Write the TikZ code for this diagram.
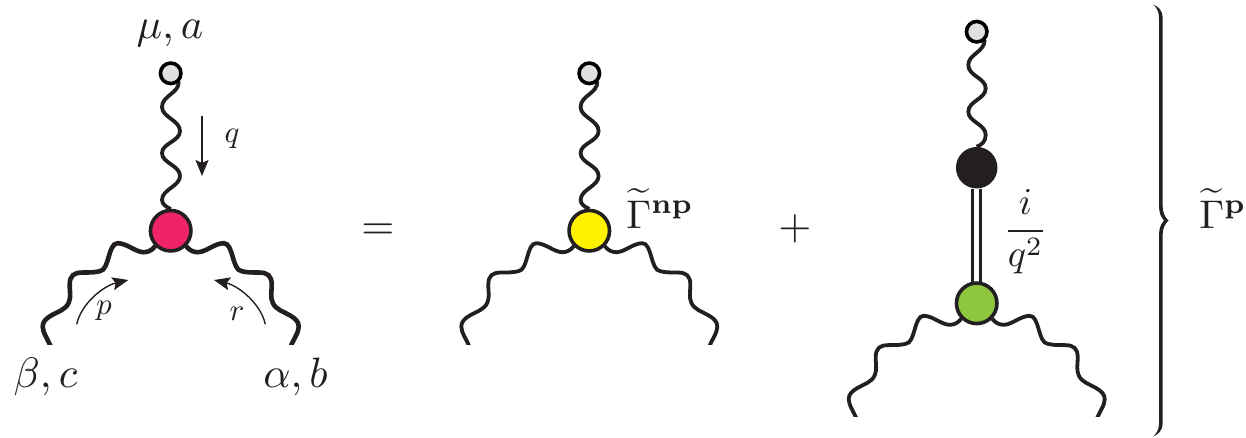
\documentclass[tikz,border=0pt]{standalone}
\usepackage{amsmath}
\usetikzlibrary{arrows.meta,backgrounds}
\definecolor{ink}{HTML}{231F20}
\definecolor{vred}{HTML}{EE2369}
\definecolor{vyellow}{HTML}{FFF200}
\definecolor{vgreen}{HTML}{8DC63F}
\definecolor{vgrey}{HTML}{E0E0E0}
\tikzset{
  x=1pt,y=-1pt,
  vertex/.style={circle,draw=ink,line width=3.6pt,minimum size=40.5pt,inner sep=0pt,outer sep=1.5pt},
  src/.style={circle,draw=black,line width=3.6pt,fill=vgrey,minimum size=20.5pt,inner sep=0pt,outer sep=1pt},
  wig/.style={draw=ink,line width=3.8pt},
  mom/.style={draw=ink,line width=1.4pt,-{Stealth[length=16pt,width=13pt,inset=3pt]}},
  lab/.style={anchor=base,text=ink,inner sep=0pt,outer sep=0pt},
  big/.style={lab,scale=4.25},
  mid/.style={lab,scale=4},
  sm/.style={lab,scale=3.1},
}
\newcommand{\legpath}[2]{%
  \draw[wig,line width=#2] (#1) .. controls (-19,20) and (-23,21.5) .. (-27,21.5)
    .. controls (-35,21.5) and (-44,12.5) .. (-53,12.5)
    .. controls (-63,12.5) and (-61,39.5) .. (-71,40.5)
    .. controls (-76,41.8) and (-81,41.8) .. (-88,41.8)
    .. controls (-97,41.8) and (-101,45) .. (-101,54)
    .. controls (-101,62) and (-99.5,66) .. (-102,72)
    .. controls (-105,79) and (-113,81) .. (-119,84.5)
    .. controls (-125,88) and (-128,91) .. (-128,96)
    .. controls (-128,102) and (-123,108) .. (-119,118);}
\newcommand{\legs}[2]{%
  \begin{scope}
    \clip ([shift={(-140,0)}]#1.center) rectangle ([shift={(140,113.3)}]#1.center);
    \begin{scope}[shift={(#1.center)}]
      \legpath{#1.south west}{#2}
    \end{scope}
    \begin{scope}[shift={(#1.center)},xscale=-1]
      \legpath{#1.south east}{#2}
    \end{scope}
  \end{scope}}
\newcommand{\upwig}[2]{%
  \begin{scope}[shift={(#1.center)}]
    \draw[wig] (#1.south east) .. controls (9,20) and (-8.7,22) .. (-8.7,33.7)
      .. controls (-8.7,44) and (9.3,47) .. (9.3,57.7)
      .. controls (9.3,68) and (-8.7,70) .. (-8.7,79.7)
      .. controls (-8.7,90) and (9.3,92) .. (9.3,102.7)
      .. controls (9.3,113) and (-8.7,116) .. (-8.7,126.7)
      .. controls (-8.7,131) and (-4,134) .. (#2.north);
  \end{scope}}
\begin{document}
\begin{tikzpicture}
\useasboundingbox (0,0) rectangle (1246,437);
% vertices
\node[src] (t1) at (170.7,73.3) {};
\node[vertex,fill=vred] (v1) at (170.7,230.7) {};
\node[src] (t2) at (589.3,73.3) {};
\node[vertex,fill=vyellow] (v2) at (589.3,230.7) {};
\node[src] (t3) at (976.7,31.7) {};
\node[circle,fill=ink,minimum size=41.5pt,inner sep=0pt] (b3) at (976.7,167.7) {};
\node[vertex,fill=vgreen] (v3) at (976.7,303.3) {};
\begin{scope}[on background layer]
  \upwig{t1}{v1}
  \upwig{t2}{v2}
  \legs{v1}{4.6pt}
  \legs{v2}{3.8pt}
  \legs{v3}{3.8pt}
  \draw[wig] (t3.south east) .. controls (985,52) and (968.3,54) .. (968.3,65)
    .. controls (968.3,76) and (985.7,78) .. (985.7,88.3)
    .. controls (985.7,99) and (968.3,101) .. (968.3,111.7)
    .. controls (968.3,122) and (985.7,124) .. (985.7,135)
    .. controls (985.7,142) and (981,145) .. (b3.north);
  \draw[draw=ink,line width=3.4pt,double=white,double distance=4.6pt] (b3) -- (v3);
\end{scope}
% momentum arrows
\coordinate (qs) at (202,115.5);
\coordinate (qe) at (202,176);
\draw[mom] (qs) -- (qe);
\coordinate (ps) at (76.7,324.3);
\coordinate (pe) at (128.3,280);
\draw[mom] (ps) .. controls (81,304) and (103,286) .. (pe);
\coordinate (rs) at (265.3,324.3);
\coordinate (re) at (214,280);
\draw[mom] (rs) .. controls (261,304) and (239,286) .. (re);
% labels
\node[big] (lmu) at (170,38) {$\mu,a$};
\node[big] (lbe) at (45.5,387) {$\beta,c$};
\node[big] (lal) at (295.5,387) {$\alpha,b$};
\node[sm] (lq) at (232,142.5) {$q$};
\node[sm] (lp) at (104,314) {$p$};
\node[sm] (lr) at (237,320) {$r$};
\node[big] (leq) at (378,239) {$=$};
\node[big] (lpl) at (795,239) {$+$};
\node[mid] (lnp) at (660,228) {$\widetilde{\Gamma}^{\mathbf{np}}$};
\node[mid] (lpp) at (1223,228) {$\widetilde{\Gamma}^{\mathbf{p}}$};
\node[lab,scale=3.8,anchor=center] (lfr) at (1025.5,232) {$\dfrac{i}{q^2}$};
% brace
\path[fill=ink] (1153,4.5) .. controls (1158,6.5) and (1162.6,10) .. (1162.6,18)
  -- (1162.6,206) .. controls (1162.6,213) and (1165,217) .. (1168.5,220.5)
  .. controls (1165,224) and (1162.6,228) .. (1162.6,235)
  -- (1162.6,423) .. controls (1162.6,431) and (1158,434.5) .. (1153,436.5)
  .. controls (1156.5,433.5) and (1159,430) .. (1159,423)
  -- (1159,235) .. controls (1159,228) and (1161,224) .. (1164,220.5)
  .. controls (1161,217) and (1159,213) .. (1159,206)
  -- (1159,18) .. controls (1159,11) and (1156.5,7.5) .. (1153,4.5) -- cycle;
\end{tikzpicture}
\end{document}
